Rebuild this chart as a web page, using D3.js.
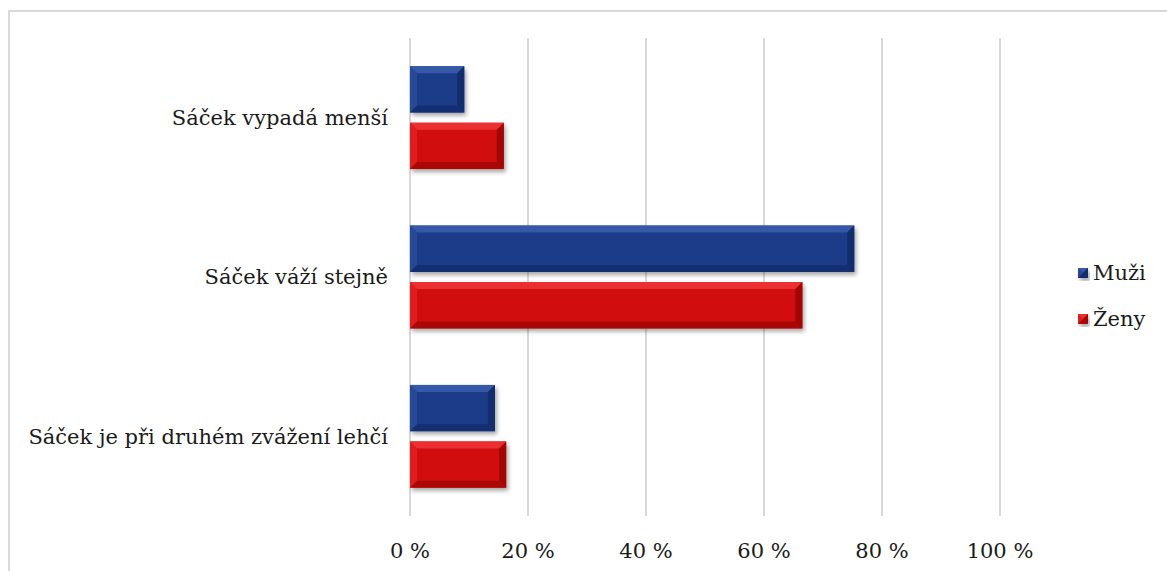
<!DOCTYPE html>
<html>
<head>
<meta charset="utf-8">
<script src="https://cdn.jsdelivr.net/npm/d3@7"></script>
<style>
  body { margin: 0; background: #fff; }
  svg { display: block; }
  text { font-family: "DejaVu Serif", serif; font-size: 21px; fill: #1a1a1a; }
</style>
</head>
<body>
<svg width="1167" height="571"></svg>
<script>
// data
var categories = ["Sáček vypadá menší", "Sáček váží stejně", "Sáček je při druhém zvážení lehčí"];
var series = ["Muži", "Ženy"];
var muzi = [9.2, 75.3, 14.4];
var zeny = [15.9, 66.5, 16.3];
var ticks = [0, 20, 40, 60, 80, 100];

var colors = {
  "Muži": { base: "#1c3a88", light: "#3658a8", dark: "#122c6c" },
  "Ženy": { base: "#d20a0a", light: "#ea3030", dark: "#a00606" }
};

var svg = d3.select("svg");

// outer frame
svg.append("rect")
  .attr("x", 9).attr("y", 11).attr("width", 1170).attr("height", 580)
  .attr("fill", "none").attr("stroke", "#d9d9d9").attr("stroke-width", 2);

var defs = svg.append("defs");
var f = defs.append("filter").attr("id", "shadow")
  .attr("x", "-10%").attr("y", "-10%").attr("width", "130%").attr("height", "140%");
f.append("feDropShadow").attr("dx", 2).attr("dy", 3).attr("stdDeviation", 2)
  .attr("flood-color", "#000").attr("flood-opacity", 0.35);

var plotLeft = 410, plotTop = 38, plotRight = 1000, plotBottom = 516;

var x = d3.scaleLinear().domain([0, 100]).range([plotLeft, plotRight]);
var y = d3.scaleBand().domain(categories).range([plotTop, plotBottom]);
var inner = d3.scaleBand().domain(series).range([0, y.bandwidth()])
  .paddingInner(0.18).paddingOuter(0.5);

// grid
svg.append("g").selectAll("line").data(ticks).join("line")
  .attr("x1", d => x(d)).attr("x2", d => x(d))
  .attr("y1", plotTop).attr("y2", plotBottom)
  .attr("stroke", "#d9d9d9").attr("stroke-width", 2);

// tick labels
svg.append("g").selectAll("text").data(ticks).join("text")
  .attr("x", d => x(d)).attr("y", 558)
  .attr("text-anchor", "middle")
  .text(d => d + " %");

// category labels
svg.append("g").selectAll("text").data(categories).join("text")
  .attr("x", 388).attr("y", d => y(d) + y.bandwidth() / 2)
  .attr("dy", "0.35em").attr("text-anchor", "end")
  .text(d => d);

// bevelled bar
function bevel(g, x0, y0, w, h, c) {
  var b = Math.min(7, w / 2, h / 2);
  g.append("rect").attr("x", x0).attr("y", y0).attr("width", w).attr("height", h)
    .attr("fill", c.base).attr("filter", "url(#shadow)");
  g.append("polygon")
    .attr("points", [[x0, y0], [x0 + w, y0], [x0 + w - b, y0 + b], [x0 + b, y0 + b]].join(" "))
    .attr("fill", c.light);
  g.append("polygon")
    .attr("points", [[x0, y0], [x0 + b, y0 + b], [x0 + b, y0 + h - b], [x0, y0 + h]].join(" "))
    .attr("fill", c.light).attr("opacity", 0.5);
  g.append("polygon")
    .attr("points", [[x0 + w, y0], [x0 + w, y0 + h], [x0 + w - b, y0 + h - b], [x0 + w - b, y0 + b]].join(" "))
    .attr("fill", c.dark);
  g.append("polygon")
    .attr("points", [[x0, y0 + h], [x0 + w, y0 + h], [x0 + w - b, y0 + h - b], [x0 + b, y0 + h - b]].join(" "))
    .attr("fill", c.dark).attr("opacity", 0.8);
}

var bars = svg.append("g");
categories.forEach(function(cat, i) {
  var vals = { "Muži": muzi[i], "Ženy": zeny[i] };
  series.forEach(function(s) {
    var gb = bars.append("g");
    bevel(gb, x(0), y(cat) + inner(s), x(vals[s]) - x(0), inner.bandwidth(), colors[s]);
  });
});

// legend
var legend = svg.append("g").selectAll("g").data(series).join("g")
  .attr("transform", (d, i) => "translate(1078," + (268 + i * 46) + ")");
legend.each(function(d) {
  bevel(d3.select(this), 0, 0, 10, 10, colors[d]);
});
legend.append("text")
  .attr("x", 15).attr("y", 5).attr("dy", "0.35em")
  .text(d => d);
</script>
</body>
</html>
